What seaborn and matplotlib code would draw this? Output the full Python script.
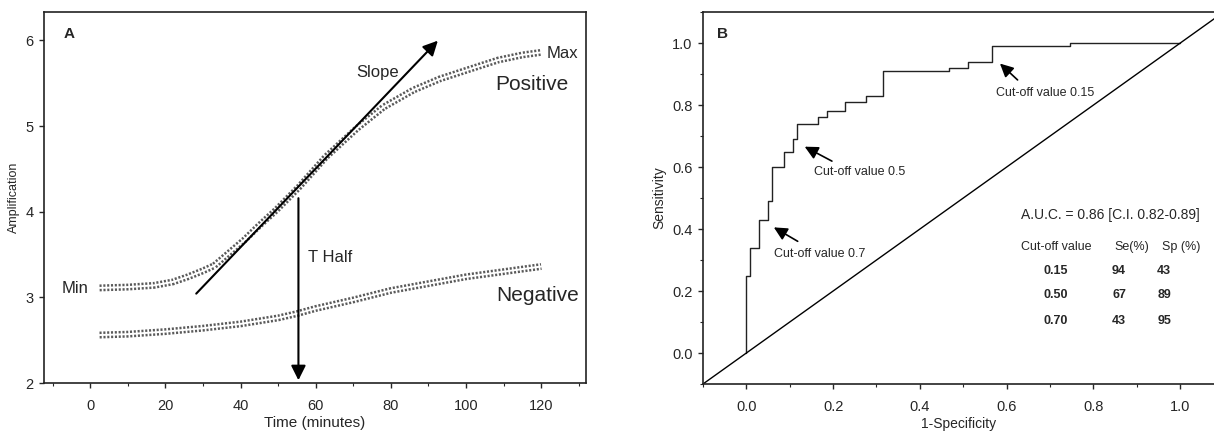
import numpy as np
import pandas as pd
import matplotlib
matplotlib.use('Agg')
import matplotlib.pyplot as plt
import seaborn as sns

# panel A: amplification curves
time_pos = [2.5, 10, 17, 22, 26, 30, 33, 37, 41, 45, 49.5, 55.6, 62.7, 70.9, 78, 86, 93, 101.4, 108.5, 115, 120]
amp_pos = [3.11, 3.12, 3.14, 3.18, 3.24, 3.31, 3.37, 3.52, 3.67, 3.84, 4.02, 4.29, 4.64, 4.97, 5.22, 5.42, 5.55, 5.67, 5.77, 5.83, 5.86]
time_neg = [2.5, 10, 20, 30, 40, 50, 55, 60, 70, 80, 90, 100, 110, 120]
amp_neg = [2.56, 2.57, 2.60, 2.64, 2.69, 2.76, 2.81, 2.87, 2.97, 3.08, 3.16, 3.24, 3.30, 3.36]

# panel B: ROC curve (step points)
fpr = [0.0, 0.0, 0.009, 0.029, 0.05, 0.059, 0.087, 0.108, 0.117, 0.166, 0.186,
       0.227, 0.277, 0.316, 0.467, 0.51, 0.566, 0.746, 1.0]
tpr = [0.0, 0.25, 0.34, 0.43, 0.49, 0.60, 0.65, 0.69, 0.74, 0.76, 0.78,
       0.81, 0.83, 0.91, 0.92, 0.94, 0.99, 1.0, 1.0]

cutoffs = ['0.15', '0.50', '0.70']
se = [94, 67, 43]
sp = [43, 89, 95]

sns.set_style('ticks')
plt.rcParams['font.family'] = ['Liberation Sans', 'DejaVu Sans']

fig = plt.figure(figsize=(12.14, 4.32), dpi=100)
axA = fig.add_axes([0.0362, 0.1134, 0.4465, 0.8586])
axB = fig.add_axes([0.579, 0.111, 0.421, 0.861])

# ---- panel A
dfp = pd.DataFrame({'t': time_pos, 'a': amp_pos})
dfn = pd.DataFrame({'t': time_neg, 'a': amp_neg})
for d in (dfp, dfn):
    sns.lineplot(data=d, x='t', y='a', ax=axA, color='#5a5a5a', lw=5.0,
                 estimator=None, sort=False)
    axA.lines[-1].set_linestyle((0, (0.3, 0.25)))
    sns.lineplot(data=d, x='t', y='a', ax=axA, color='white', lw=1.4,
                 estimator=None, sort=False)

axA.annotate('', xy=(93, 6.02), xytext=(27.7, 3.02),
             arrowprops=dict(arrowstyle='-|>', color='black', lw=1.5, mutation_scale=22))
axA.annotate('', xy=(55.4, 2.0), xytext=(55.4, 4.19),
             arrowprops=dict(arrowstyle='-|>', color='black', lw=1.5, mutation_scale=22))

axA.text(-4, 3.1, 'Min', fontsize=12, ha='center', va='center')
axA.text(125.6, 5.85, 'Max', fontsize=12, ha='center', va='center')
axA.text(76.5, 5.63, 'Slope', fontsize=12, ha='center', va='center')
axA.text(63.8, 3.47, 'T Half', fontsize=12, ha='center', va='center')
axA.text(117.5, 5.49, 'Positive', fontsize=15, ha='center', va='center')
axA.text(119, 3.02, 'Negative', fontsize=15, ha='center', va='center')
axA.text(-5.5, 6.08, 'A', fontsize=11, fontweight='bold', ha='center', va='center')

axA.set_xlim(-12.3, 131.9)
axA.set_ylim(2, 6.33)
axA.set_xticks(range(0, 121, 20))
axA.set_xticks(range(-10, 131, 10), minor=True)
axA.set_yticks([2, 3, 4, 5, 6])
axA.set_xlabel('Time (minutes)', fontsize=11, labelpad=2)
axA.set_ylabel('Amplification', fontsize=9, labelpad=4)

# ---- panel B
roc = pd.DataFrame({'fpr': fpr, 'tpr': tpr})
sns.lineplot(data=roc, x='fpr', y='tpr', ax=axB, color='#222222', lw=1.0,
             drawstyle='steps-post', estimator=None, sort=False)
sns.lineplot(x=[-0.1, 1.1], y=[-0.1, 1.1], ax=axB, color='black', lw=1.0)

arr = dict(arrowstyle='-|>', color='black', lw=1.2, mutation_scale=20)
axB.annotate('', xy=(0.58, 0.94), xytext=(0.63, 0.875), arrowprops=arr)
axB.text(0.576, 0.84, 'Cut-off value 0.15', fontsize=9, va='center')
axB.annotate('', xy=(0.129, 0.67), xytext=(0.203, 0.615), arrowprops=arr)
axB.text(0.157, 0.584, 'Cut-off value 0.5', fontsize=9, va='center')
axB.annotate('', xy=(0.058, 0.41), xytext=(0.124, 0.356), arrowprops=arr)
axB.text(0.065, 0.32, 'Cut-off value 0.7', fontsize=9, va='center')

axB.text(0.633, 0.444, 'A.U.C. = 0.86 [C.I. 0.82-0.89]', fontsize=10, va='center')
axB.text(0.633, 0.342, 'Cut-off value', fontsize=9, va='center')
axB.text(0.848, 0.342, 'Se(%)', fontsize=9, va='center')
axB.text(0.958, 0.342, 'Sp (%)', fontsize=9, va='center')
row_y = [0.266, 0.188, 0.105]
for c, s1, s2, yy in zip(cutoffs, se, sp, row_y):
    axB.text(0.685, yy, c, fontsize=9, va='center', fontweight='bold')
    axB.text(0.843, yy, str(s1), fontsize=9, va='center', fontweight='bold')
    axB.text(0.947, yy, str(s2), fontsize=9, va='center', fontweight='bold')
axB.text(-0.055, 1.03, 'B', fontsize=11, fontweight='bold', ha='center', va='center')

axB.set_xlim(-0.1, 1.078)
axB.set_ylim(-0.1, 1.1)
axB.set_xticks([0.0, 0.2, 0.4, 0.6, 0.8, 1.0])
axB.set_xticks(np.arange(-0.1, 1.05, 0.1), minor=True)
axB.set_yticks([0.0, 0.2, 0.4, 0.6, 0.8, 1.0])
axB.set_yticks(np.arange(-0.1, 1.15, 0.1), minor=True)
axB.set_xlabel('1-Specificity', fontsize=10, labelpad=2)
axB.set_ylabel('Sensitivity', fontsize=10, labelpad=4)
axB.spines['right'].set_visible(False)

for ax in (axA, axB):
    for s in ax.spines.values():
        s.set_linewidth(1.2)
        s.set_color('#222222')
    ax.tick_params(labelsize=10.5)
    ax.tick_params(which='major', length=3.5, width=1.0)
    ax.tick_params(which='minor', length=2.5, width=0.8)
    ax.tick_params(axis='x', which='major', pad=8)
    ax.tick_params(axis='y', which='major', pad=4)

fig.savefig('out.png', dpi=100)
